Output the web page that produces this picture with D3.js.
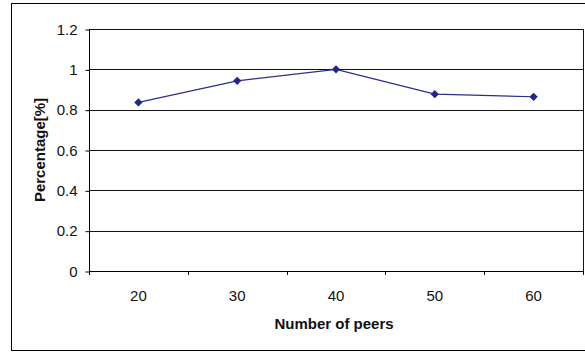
<!DOCTYPE html>
<html><head><meta charset="utf-8">
<script src="https://cdn.jsdelivr.net/npm/d3@7"></script>
<style>body{margin:0;background:#fff}svg{display:block}text{font-family:"Liberation Sans",Arial,sans-serif}</style>
</head><body><svg id="c" width="585" height="352"></svg>
<script>
const categories = ["20","30","40","50","60"];
const values = [0.836, 0.943, 1.0, 0.877, 0.864];
const yTicks = [0, 0.2, 0.4, 0.6, 0.8, 1, 1.2];
const xTitle = "Number of peers";
const yTitle = "Percentage[%]";

const svg = d3.select("#c");
const L = 89, R = 583, T = 29, B = 271;
svg.append("rect").attr("x",11.5).attr("y",3.5).attr("width",585).attr("height",347)
  .attr("fill","#fff").attr("stroke","#000").attr("stroke-width",1);

const x = d3.scaleBand().domain(categories).range([L, R]);
const y = d3.scaleLinear().domain([0, 1.2]).range([B, T]);

svg.append("g").selectAll("line").data(yTicks.slice(1)).join("line")
  .attr("x1", L).attr("x2", R)
  .attr("y1", d => Math.round(y(d))+0.5).attr("y2", d => Math.round(y(d))+0.5)
  .attr("stroke", "#111").attr("stroke-width", 1);
svg.append("line").attr("x1",R+0.5).attr("x2",R+0.5).attr("y1",T).attr("y2",B).attr("stroke","#111");

const yAxis = d3.axisLeft(y).tickValues(yTicks).tickFormat(d => String(d)).tickSize(4).tickPadding(8);
const gy = svg.append("g").attr("transform", `translate(${L+0.5},0.5)`).call(yAxis);
gy.select(".domain").attr("stroke","#000").attr("d", `M0,${T}V${B}`);
gy.selectAll("line").attr("stroke","#000");
gy.selectAll("text").attr("font-size", 15).attr("fill","#111").attr("font-family","Liberation Sans, Arial");

const xAxis = d3.axisBottom(x).tickSize(0).tickPadding(19);
const gx = svg.append("g").attr("transform", `translate(0,${B+0.5})`).call(xAxis);
gx.select(".domain").attr("stroke","#000").attr("d", `M${L},0H${R}`);
gx.selectAll("text").attr("font-size", 15).attr("fill","#111").attr("font-family","Liberation Sans, Arial");
svg.append("g").selectAll("line").data(categories.concat(["end"])).join("line")
  .attr("x1", (d,i) => Math.round(L + i*x.step())+0.5)
  .attr("x2", (d,i) => Math.round(L + i*x.step())+0.5)
  .attr("y1", B).attr("y2", B+4).attr("stroke","#000");

const line = d3.line().x((d,i) => x(categories[i]) + x.bandwidth()/2).y(d => y(d));
svg.append("path").datum(values).attr("d", line).attr("fill","none")
  .attr("stroke","#2a2f8f").attr("stroke-width",1.2);
svg.append("g").selectAll("path").data(values).join("path")
  .attr("d", d3.symbol(d3.symbolSquare, 34))
  .attr("transform", (d,i) => `translate(${x(categories[i]) + x.bandwidth()/2},${y(d)}) rotate(45)`)
  .attr("fill","#22268a");

svg.append("text").attr("x", 334).attr("y", 329).attr("text-anchor","middle")
  .attr("font-size",15).attr("font-weight","bold").attr("fill","#111").text(xTitle);
svg.append("text").attr("transform", `translate(45,${(T+B)/2}) rotate(-90)`).attr("text-anchor","middle")
  .attr("font-size",15).attr("font-weight","bold").attr("fill","#111").text(yTitle);
</script></body></html>
